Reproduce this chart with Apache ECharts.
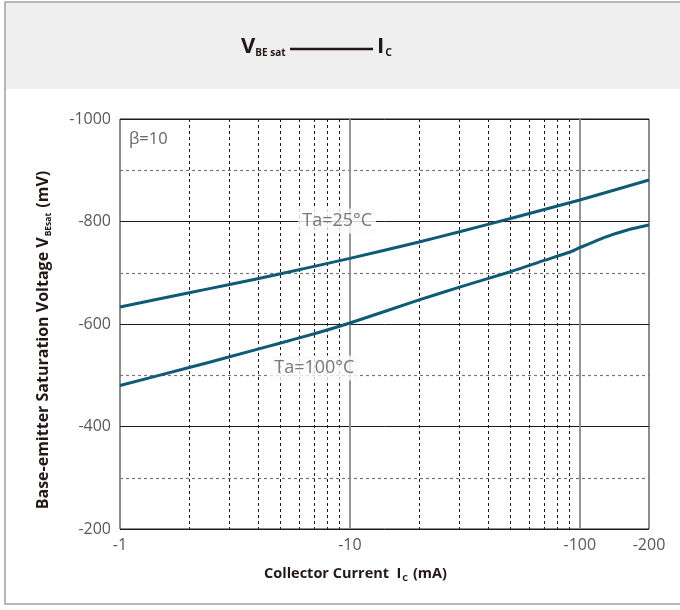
<!DOCTYPE html>
<html>
<head>
<meta charset="utf-8">
<script src="https://cdn.jsdelivr.net/npm/echarts@6/dist/echarts.min.js"></script>
<style>
  html, body { margin: 0; padding: 0; background: #fff; }
  #chart { width: 680px; height: 610px; }
</style>
</head>
<body>
<div id="chart"></div>
<script>
// Ta=25°C curve (Ic in mA, VBE(sat) in mV)
const ic25 = [1, 2, 3, 5, 10, 20, 30, 50, 100, 200];
const vbe25 = [-633, -661, -677, -698, -728, -760, -780, -806, -842, -881];
// Ta=100°C curve
const ic100 = [1, 2, 3, 5, 7, 10, 20, 30, 50, 70, 90, 100, 130, 160, 200];
const vbe100 = [-480, -515, -536, -563, -581, -602, -647, -672, -702, -724, -740, -749, -770, -783, -793];
// vertical grid lines
const majorGridX = [10, 100];
const minorGridX = [2, 3, 4, 5, 6, 7, 8, 9, 20, 30, 40, 50, 60, 70, 80, 90];
// curve labels: [text, Ic, VBE]
const curveLabels = [['Ta=25°C', 8.8, -801], ['Ta=100°C', 7.0, -514]];

const LINE_COLOR = '#0f5a74';
const FONT = '"Open Sans", "Noto Sans", sans-serif';

const chart = echarts.init(document.getElementById('chart'), null, { renderer: 'canvas' });

const pairs = (xs, ys) => xs.map((x, i) => [x, ys[i]]);

chart.setOption({
  animation: false,
  textStyle: { fontFamily: FONT },
  graphic: [
    { type: 'rect', z: -10, shape: { x: 5, y: 2, width: 700, height: 602 }, style: { fill: '#fff', stroke: '#a0a0a0', lineWidth: 1.5 } },
    { type: 'rect', z: -9, shape: { x: 6, y: 3, width: 700, height: 86 }, style: { fill: '#efefef' } },
    {
      type: 'text', left: 241, top: 36,
      style: {
        text: '{v|V}{s|BE sat}',
        rich: {
          v: { fontSize: 22, fontWeight: 'bold', fill: '#231815', fontFamily: FONT },
          s: { fontSize: 10, fontWeight: 'bold', fill: '#231815', fontFamily: FONT, padding: [12, 0, 0, 0] }
        }
      }
    },
    { type: 'line', shape: { x1: 290, y1: 49, x2: 373, y2: 49 }, style: { stroke: '#231815', lineWidth: 2.5 } },
    {
      type: 'text', left: 377, top: 36,
      style: {
        text: '{v|I}{s|C}',
        rich: {
          v: { fontSize: 22, fontWeight: 'bold', fill: '#231815', fontFamily: FONT },
          s: { fontSize: 10.5, fontWeight: 'bold', fill: '#231815', fontFamily: FONT, padding: [12, 0, 0, 1] }
        }
      }
    },
    {
      type: 'text', left: 129, top: 131,
      style: { text: 'β=10', fontSize: 16.5, fill: '#666', fontFamily: FONT }
    },
    {
      type: 'text', left: 264, top: 566,
      style: {
        text: '{b|Collector Current  I}{s|C}{b| (mA)}',
        rich: {
          b: { fontSize: 14.5, fontWeight: 'bold', fill: '#231815', fontFamily: FONT },
          s: { fontSize: 9, fontWeight: 'bold', fill: '#231815', fontFamily: FONT, padding: [10, 1, 0, 1] }
        }
      }
    }
  ],
  grid: {
    left: 120, right: 31, top: 119, bottom: 81,
    show: true, borderColor: '#231815', borderWidth: 1, backgroundColor: 'transparent'
  },
  xAxis: {
    type: 'log', logBase: 10, min: 1, max: 200,
    axisLine: { show: false },
    axisTick: { show: false },
    splitLine: { show: false },
    axisLabel: { color: '#595757', fontSize: 16, margin: 8, formatter: v => '-' + v }
  },
  yAxis: {
    type: 'value', min: -1000, max: -200, interval: 200, inverse: true,
    name: '{b|Base-emitter Saturation Voltage V}{s|BEsat}{b| (mV)}',
    nameLocation: 'middle', nameRotate: 90, nameGap: 67,
    nameTextStyle: {
      padding: [0, 32, 0, 0],
      rich: {
        b: { fontSize: 16, fontWeight: 'bold', color: '#231815', fontFamily: FONT },
        s: { fontSize: 8.5, fontWeight: 'bold', color: '#231815', fontFamily: FONT, padding: [10, 1, 0, 1] }
      }
    },
    axisLine: { show: false },
    axisTick: { show: false },
    axisLabel: { color: '#595757', fontSize: 16, margin: 9, formatter: v => String(v) },
    splitLine: { lineStyle: { color: '#231815', width: 1 } },
    minorTick: { show: false, splitNumber: 2 },
    minorSplitLine: { show: true, lineStyle: { color: '#777', width: 1.2, type: [3, 3] } }
  },
  series: [
    {
      type: 'line', name: 'grid', data: [], silent: true,
      markLine: {
        silent: true, symbol: 'none', animation: false,
        label: { show: false },
        data: [
          ...minorGridX.map(x => ({ xAxis: x, lineStyle: { color: '#231815', width: 1, type: [3, 3] } })),
          ...majorGridX.map(x => ({ xAxis: x, lineStyle: { color: '#8a8a8a', width: 1.8, type: 'solid' } }))
        ]
      }
    },
    {
      type: 'line', name: 'Ta=25°C', data: pairs(ic25, vbe25), smooth: 0.2, showSymbol: false,
      lineStyle: { color: LINE_COLOR, width: 3 }, z: 5
    },
    {
      type: 'line', name: 'Ta=100°C', data: pairs(ic100, vbe100), smooth: 0.2, showSymbol: false,
      lineStyle: { color: LINE_COLOR, width: 3 }, z: 5
    },
    {
      type: 'scatter', name: 'labels', symbolSize: 0, z: 10, silent: true,
      data: curveLabels.map(d => ({ value: [d[1], d[2]], name: d[0] })),
      label: {
        show: true, position: 'inside', formatter: p => p.name,
        fontSize: 18, color: '#595757', backgroundColor: '#fbfbfb', padding: [4, 4, 3, 4], fontFamily: FONT
      }
    }
  ]
});
</script>
</body>
</html>
